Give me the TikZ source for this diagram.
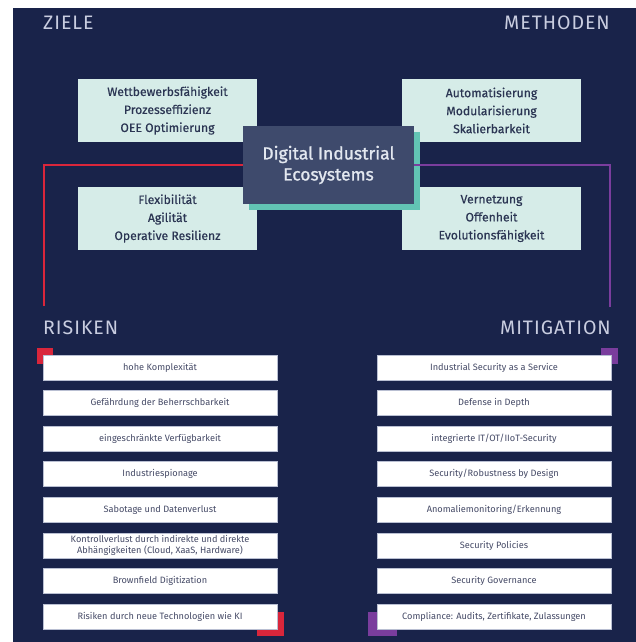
\documentclass[tikz,border=0pt]{standalone}
\usepackage{fontspec}
\setmainfont{Fira Sans}
\newfontfamily\headfont[LetterSpace=5]{Fira Sans}
\newfontfamily\medfont[FakeBold=1.2]{Fira Sans}
\newfontfamily\semifont[FakeBold=0.5]{Fira Sans}
\usetikzlibrary{shadows}
\definecolor{bg}{HTML}{19234A}
\definecolor{mint}{HTML}{D6ECE8}
\definecolor{minttext}{HTML}{2B3553}
\definecolor{slate}{HTML}{3E4A6C}
\definecolor{tealsh}{HTML}{62C4B4}
\definecolor{centertext}{HTML}{E3E8F0}
\definecolor{redl}{HTML}{D9263B}
\definecolor{purl}{HTML}{7A3D9D}
\definecolor{headc}{HTML}{C9CDE0}
\definecolor{boxline}{HTML}{B9BFD2}
\definecolor{smalltext}{HTML}{454A66}
\tikzset{
  goalbox/.style={fill=mint, draw=none, minimum width=179pt, minimum height=63pt, inner sep=0pt,
    align=center, text=minttext, font=\semifont\fontsize{12.2}{18}\selectfont},
  centerbox/.style={fill=slate, draw=none, minimum width=171pt, minimum height=78pt, inner sep=0pt,
    align=center, text=centertext, font=\medfont\fontsize{17.5}{21}\selectfont,
    drop shadow={shadow xshift=6pt, shadow yshift=-6pt, fill=tealsh, opacity=1}},
  heading/.style={text=headc, inner sep=0pt, font=\headfont\fontsize{19.5}{20}\selectfont},
  listbox/.style={fill=white, draw=boxline, line width=0.8pt, minimum width=234pt, minimum height=25pt,
    inner sep=0pt, align=center, text=smalltext, font=\fontsize{9.2}{11.5}\selectfont},
  redline/.style={draw=redl, line width=2pt},
  purline/.style={draw=purl, line width=2pt},
}
\begin{document}
\begin{tikzpicture}[x=1pt,y=-1pt]
\useasboundingbox (0,0) rectangle (636,642);
\fill[bg] (13,8) rectangle (636,642);

% headings
\node[heading, anchor=west] (zl) at (43,23) {ZIELE};
\node[heading, anchor=east] (me) at (610,23) {METHODEN};
\node[heading, anchor=west] (ri) at (43,328) {RISIKEN};
\node[heading, anchor=east] (mi) at (611,328) {MITIGATION};

% connector corners
\coordinate (rc) at (44,306);
\coordinate (pc) at (610,307);

% goal / method boxes
\node[goalbox] (g1) at (167.5,110.5) {Wettbewerbsfähigkeit\\Prozesseffizienz\\OEE Optimierung};
\node[goalbox] (m1) at (491.5,110.5) {Automatisierung\\Modularisierung\\Skalierbarkeit};
\node[goalbox] (g2) at (167.5,218.5) {Flexibilität\\Agilität\\Operative Resilienz};
\node[goalbox] (m2) at (491.5,218.5) {Vernetzung\\Offenheit\\Evolutionsfähigkeit};

% center
\node[centerbox] (c) at (328.5,165) {Digital Industrial\\Ecosystems};

% connectors
\draw[redline] (rc) |- (c.west);
\draw[purline] (pc) |- (c.east);

% corner squares
\fill[redl] (37,348) rectangle (53,364);
\fill[redl] (257,612) rectangle (284,636);
\fill[purl] (601,348) rectangle (618,364);
\fill[purl] (368,612) rectangle (397,636);

% risk boxes
\node[listbox] (r1) at (160,367.5) {hohe Komplexität};
\node[listbox] (r2) at (160,403.1) {Gefährdung der Beherrschbarkeit};
\node[listbox] (r3) at (160,438.6) {eingeschränkte Verfügbarkeit};
\node[listbox] (r4) at (160,474.2) {Industriespionage};
\node[listbox] (r5) at (160,509.8) {Sabotage und Datenverlust};
\node[listbox] (r6) at (160,545.4) {Kontrollverlust durch indirekte und direkte\\Abhängigkeiten (Cloud, XaaS, Hardware)};
\node[listbox] (r7) at (160,580.9) {Brownfield Digitization};
\node[listbox] (r8) at (160,616.5) {Risiken durch neue Technologien wie KI};

% mitigation boxes
\node[listbox] (t1) at (494,367.5) {Industrial Security as a Service};
\node[listbox] (t2) at (494,403.1) {Defense in Depth};
\node[listbox] (t3) at (494,438.6) {integrierte IT/OT/IIoT-Security};
\node[listbox] (t4) at (494,474.2) {Security/Robustness by Design};
\node[listbox] (t5) at (494,509.8) {Anomaliemonitoring/Erkennung};
\node[listbox] (t6) at (494,545.4) {Security Policies};
\node[listbox] (t7) at (494,580.9) {Security Governance};
\node[listbox] (t8) at (494,616.5) {Compliance: Audits, Zertifikate, Zulassungen};
\end{tikzpicture}
\end{document}
